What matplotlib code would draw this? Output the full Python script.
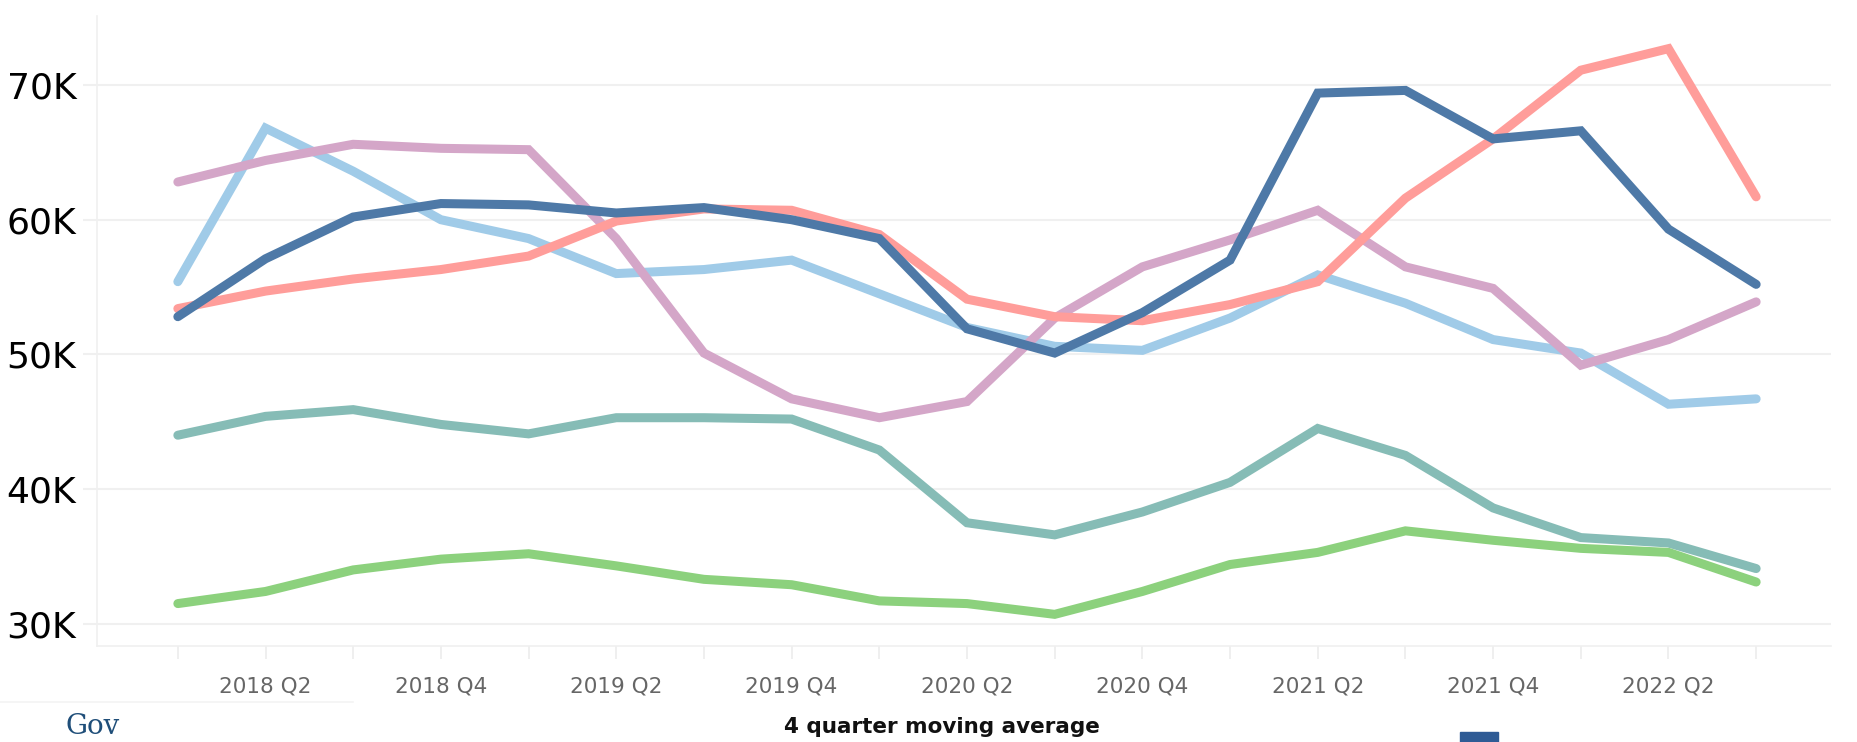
import matplotlib.pyplot as plt
from matplotlib.patches import Rectangle
from matplotlib.ticker import FuncFormatter

quarters = ["2018 Q1", "2018 Q2", "2018 Q3", "2018 Q4",
            "2019 Q1", "2019 Q2", "2019 Q3", "2019 Q4",
            "2020 Q1", "2020 Q2", "2020 Q3", "2020 Q4",
            "2021 Q1", "2021 Q2", "2021 Q3", "2021 Q4",
            "2022 Q1", "2022 Q2", "2022 Q3"]

# values in thousands
dark_blue = [52.8, 57.1, 60.2, 61.2, 61.1, 60.5, 60.9, 60.0, 58.6, 51.9,
             50.1, 53.1, 57.0, 69.4, 69.6, 66.0, 66.6, 59.3, 55.2]
salmon = [53.4, 54.7, 55.6, 56.3, 57.3, 59.9, 60.8, 60.7, 58.9, 54.1,
          52.8, 52.5, 53.7, 55.4, 61.6, 66.0, 71.1, 72.7, 61.7]
light_blue = [55.4, 66.8, 63.6, 60.0, 58.6, 56.0, 56.3, 57.0, 54.5, 52.0,
              50.6, 50.3, 52.7, 55.9, 53.8, 51.1, 50.1, 46.3, 46.7]
mauve = [62.8, 64.4, 65.6, 65.3, 65.2, 58.6, 50.1, 46.7, 45.3, 46.5,
         52.7, 56.5, 58.5, 60.7, 56.5, 54.9, 49.2, 51.1, 53.9]
teal = [44.0, 45.4, 45.9, 44.8, 44.1, 45.3, 45.3, 45.2, 42.9, 37.5,
        36.6, 38.3, 40.5, 44.5, 42.5, 38.6, 36.4, 36.0, 34.1]
green = [31.5, 32.4, 34.0, 34.8, 35.2, 34.3, 33.3, 32.9, 31.7, 31.5,
         30.7, 32.4, 34.4, 35.3, 36.9, 36.2, 35.6, 35.3, 33.1]

series = [
    (teal, "#86bcb6"),
    (green, "#8cd17d"),
    (light_blue, "#a0cbe8"),
    (mauve, "#d4a6c8"),
    (salmon, "#ff9d9a"),
    (dark_blue, "#4e79a7"),
]

fig = plt.figure(figsize=(18.58, 7.42), dpi=100)
ax = fig.add_axes([0.0523, 0.129, 0.933, 0.849])

x = list(range(len(quarters)))
for vals, color in series:
    ax.plot(x, vals, color=color, lw=6.5, solid_capstyle="round",
            solid_joinstyle="miter")

ax.set_xlim(-0.92, 18.85)
ax.set_ylim(28.33, 75.1)

ax.set_yticks([30, 40, 50, 60, 70])
ax.yaxis.set_major_formatter(FuncFormatter(lambda v, p: f"{int(v)}K"))
ax.grid(axis="y", color="#f0f0f0", lw=1.5)
ax.set_axisbelow(True)

ax.set_xticks(x, minor=True)
ax.set_xticks(x[1::2])
ax.set_xticklabels(quarters[1::2])
ax.tick_params(axis="x", which="both", length=9, color="#ececec", width=1.2)
ax.tick_params(axis="x", which="major", labelsize=15.5, labelcolor="#666666", pad=13)
ax.tick_params(axis="y", length=10, color="#f0f0f0", width=1.5,
               labelsize=26, labelcolor="black", pad=5)

for side in ["top", "right"]:
    ax.spines[side].set_visible(False)
ax.spines["left"].set_color("#f0f0f0")
ax.spines["bottom"].set_color("#f0f0f0")
ax.spines["left"].set_linewidth(1.2)
ax.spines["bottom"].set_linewidth(1.2)

fig.text(0.507, 0.0205, "4 quarter moving average", ha="center", va="center",
         fontsize=15.5, fontweight="bold", color="#111111")

# partial logos at the bottom edge
fig.add_artist(plt.Line2D([0, 0.19], [0.054, 0.054], color="#f4f4f4", lw=1.2))
fig.text(0.035, 0.003, "Gov", ha="left", va="bottom", fontsize=20,
         family="DejaVu Serif", color="#1f4e79")
fig.add_artist(Rectangle((0.786, 0.0), 0.02, 0.013, color="#2f5b95",
                         transform=fig.transFigure))

fig.savefig("out.png", dpi=100)
